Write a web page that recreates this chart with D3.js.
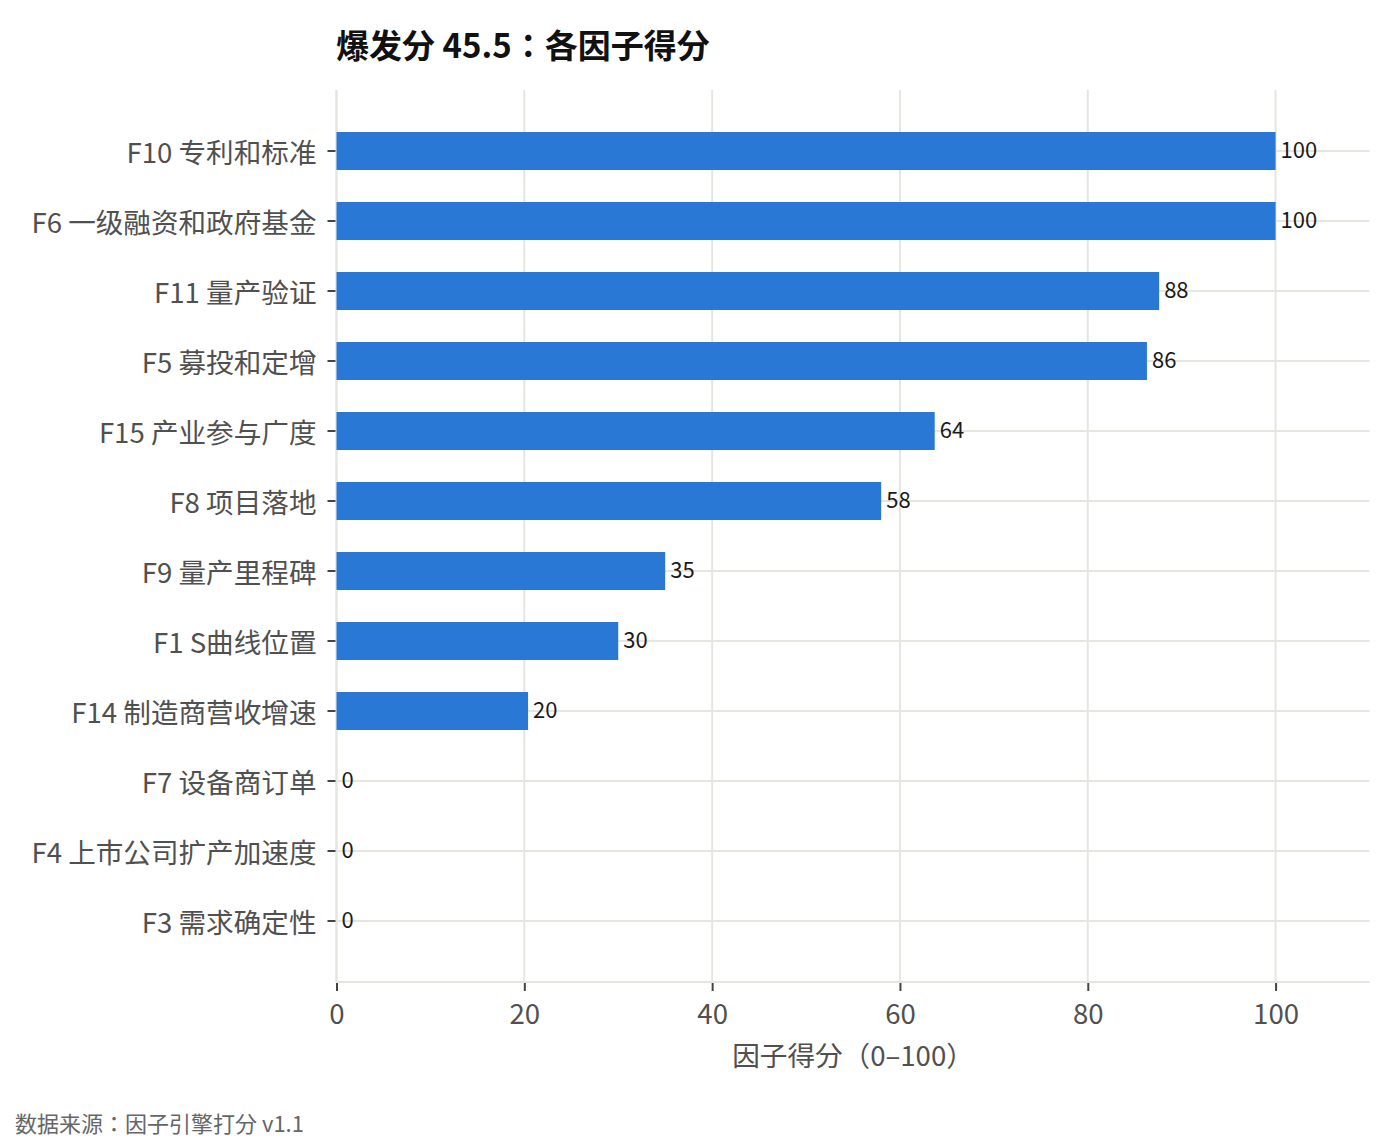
<!DOCTYPE html>
<html>
<head>
<meta charset="utf-8">
<script src="https://cdn.jsdelivr.net/npm/d3@7"></script>
<style>
  html, body { margin: 0; padding: 0; background: #fff; }
  svg { display: block; font-family: "Noto Sans CJK JP", "Noto Sans CJK SC", sans-serif; }
</style>
</head>
<body>
<div id="chart"></div>
<script>
/* ── Data ─────────────────────────────────────────────────────────── */

const factors = [
  'F10 专利和标准', 'F6 一级融资和政府基金', 'F11 量产验证', 'F5 募投和定增',
  'F15 产业参与广度', 'F8 项目落地', 'F9 量产里程碑', 'F1 S曲线位置',
  'F14 制造商营收增速', 'F7 设备商订单', 'F4 上市公司扩产加速度', 'F3 需求确定性'
];
const scores = [100, 100, 87.6, 86.3, 63.7, 58, 35, 30, 20.4, 0, 0, 0];
const xTicks = [0, 20, 40, 60, 80, 100];

const titleText = '爆发分 45.5：各因子得分';
const xLabelText = '因子得分（0–100）';
const sourceText = '数据来源：因子引擎打分 v1.1';

/* ── Layout ───────────────────────────────────────────────────────── */

const W = 1400, H = 1144;
const plot = { left: 336.5, right: 1369.5, top: 90, bottom: 982 };
const FONT = '"Noto Sans CJK JP", "Noto Sans CJK SC", sans-serif';

const COLORS = {
  bar: '#2a78d6',
  grid: '#e6e6e1',
  tick: '#444444',
  label: '#505050',
  value: '#1a1a1a',
  title: '#111111',
  source: '#666666',
};

const svg = d3.select('#chart').append('svg')
  .attr('width', W)
  .attr('height', H);

const x = d3.scaleLinear().domain([0, 110]).range([plot.left, plot.right]);
const y = d3.scaleBand().domain(factors).range([plot.top, plot.bottom])
  .paddingInner(0.457).paddingOuter(0.6);

const rows = factors.map((f, i) => ({ name: f, value: scores[i] }));

/* ── Grid ─────────────────────────────────────────────────────────── */

svg.append('g').selectAll('line.vgrid')
  .data(xTicks)
  .join('line')
  .attr('x1', d => x(d)).attr('x2', d => x(d))
  .attr('y1', plot.top).attr('y2', plot.bottom)
  .attr('stroke', COLORS.grid).attr('stroke-width', 2);

svg.append('g').selectAll('line.hgrid')
  .data(factors)
  .join('line')
  .attr('x1', plot.left).attr('x2', plot.right)
  .attr('y1', d => y(d) + y.bandwidth() / 2)
  .attr('y2', d => y(d) + y.bandwidth() / 2)
  .attr('stroke', COLORS.grid).attr('stroke-width', 2);

// spines
svg.append('line')
  .attr('x1', plot.left).attr('x2', plot.left)
  .attr('y1', plot.top).attr('y2', plot.bottom)
  .attr('stroke', COLORS.grid).attr('stroke-width', 2);
svg.append('line')
  .attr('x1', plot.left).attr('x2', plot.right)
  .attr('y1', plot.bottom).attr('y2', plot.bottom)
  .attr('stroke', COLORS.grid).attr('stroke-width', 2);

/* ── Bars + value labels ──────────────────────────────────────────── */

svg.append('g').selectAll('rect')
  .data(rows)
  .join('rect')
  .attr('x', x(0))
  .attr('y', d => y(d.name))
  .attr('width', d => x(d.value) - x(0))
  .attr('height', y.bandwidth())
  .attr('fill', COLORS.bar);

svg.append('g').selectAll('text')
  .data(rows)
  .join('text')
  .attr('x', d => x(d.value) + 5)
  .attr('y', d => y(d.name) + y.bandwidth() / 2)
  .attr('dy', '0.33em')
  .attr('font-size', 22)
  .attr('fill', COLORS.value)
  .text(d => d3.format('.0f')(d.value));

/* ── Axes ─────────────────────────────────────────────────────────── */

const yAxis = svg.append('g')
  .attr('transform', 'translate(' + (plot.left - 1) + ',0)')
  .call(d3.axisLeft(y).tickSize(8).tickPadding(11));
yAxis.select('.domain').remove();
yAxis.selectAll('.tick line').attr('stroke', COLORS.tick).attr('stroke-width', 2);
yAxis.selectAll('.tick text')
  .attr('font-size', 27.6)
  .attr('font-family', FONT)
  .attr('fill', COLORS.label)
  .attr('dy', '0.42em');

const xAxis = svg.append('g')
  .attr('transform', 'translate(0,' + (plot.bottom + 1) + ')')
  .call(d3.axisBottom(x).tickValues(xTicks).tickSize(8).tickPadding(13));
xAxis.select('.domain').remove();
xAxis.selectAll('.tick line').attr('stroke', COLORS.tick).attr('stroke-width', 2);
xAxis.selectAll('.tick text')
  .attr('font-size', 27.6)
  .attr('font-family', FONT)
  .attr('fill', COLORS.label);

/* ── Titles ───────────────────────────────────────────────────────── */

svg.append('text')
  .attr('x', (plot.left + plot.right) / 2)
  .attr('y', 1066)
  .attr('text-anchor', 'middle')
  .attr('font-size', 27.6)
  .attr('fill', COLORS.label)
  .text(xLabelText);

svg.append('text')
  .attr('x', 336)
  .attr('y', 58)
  .attr('font-size', 33)
  .attr('font-weight', 'bold')
  .attr('fill', COLORS.title)
  .text(titleText);

svg.append('text')
  .attr('x', 15)
  .attr('y', 1132)
  .attr('font-size', 22)
  .attr('fill', COLORS.source)
  .text(sourceText);
</script>
</body>
</html>
